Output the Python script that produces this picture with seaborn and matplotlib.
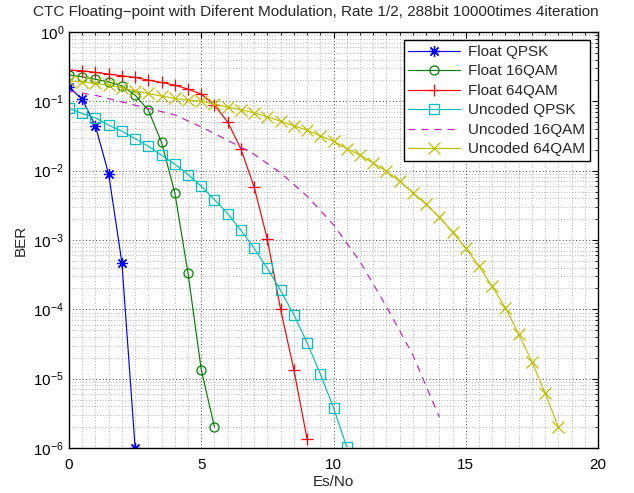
import numpy as np
import pandas as pd
import matplotlib
matplotlib.use("Agg")
import matplotlib.pyplot as plt
import seaborn as sns
from matplotlib.ticker import MultipleLocator, LogLocator, NullFormatter, FixedLocator

# values
x_fqpsk = [0, 0.5, 1, 1.5, 2, 2.5]
ber_fqpsk = [0.16, 0.107, 0.044, 0.0089, 4.7e-4, 1.0e-6]

x_f16 = [0, 0.5, 1, 1.5, 2, 2.5, 3, 3.5, 4, 4.5, 5, 5.5]
ber_f16 = [0.24, 0.226, 0.208, 0.19, 0.167, 0.123, 0.0746, 0.0255, 0.0048, 3.3e-4, 1.35e-5, 2.0e-6]

x_f64 = [0, 0.5, 1, 1.5, 2, 2.5, 3, 3.5, 4, 4.5, 5, 5.5, 6, 6.5, 7, 7.5, 8, 8.5, 9]
ber_f64 = [0.282, 0.276, 0.261, 0.247, 0.234, 0.221, 0.202, 0.187, 0.171, 0.15,
           0.127, 0.088, 0.0503, 0.0205, 0.0058, 1.02e-3, 1.0e-4, 1.35e-5, 1.35e-6]

x_uqpsk = [0, 0.5, 1, 1.5, 2, 2.5, 3, 3.5, 4, 4.5, 5, 5.5, 6, 6.5, 7, 7.5, 8, 8.5,
           9, 9.5, 10, 10.5]
ber_uqpsk = [0.0789, 0.0668, 0.0578, 0.0453, 0.0371, 0.029, 0.0225, 0.0167, 0.0124,
             0.00877, 0.00595, 0.00382, 0.0024, 0.00138, 7.6e-4, 3.9e-4, 1.87e-4,
             8.4e-5, 3.3e-5, 1.18e-5, 3.8e-6, 1.04e-6]

x_u16 = [0, 1, 2, 3, 4, 5, 6, 7, 8, 9, 10, 11, 12, 13, 14]
ber_u16 = [0.141, 0.122, 0.098, 0.079, 0.0638, 0.0427, 0.0275, 0.0172, 0.0093,
           0.0043, 0.00166, 4.9e-4, 1.1e-4, 2.2e-5, 2.8e-6]

x_u64 = [0, 0.5, 1, 1.5, 2, 2.5, 3, 3.5, 4, 4.5, 5, 5.5, 6, 6.5, 7, 7.5, 8, 8.5, 9,
         9.5, 10, 10.5, 11, 11.5, 12, 12.5, 13, 13.5, 14, 14.5, 15, 15.5, 16, 16.5,
         17, 17.5, 18, 18.5]
ber_u64 = [0.196, 0.191, 0.181, 0.171, 0.157, 0.14, 0.13, 0.119, 0.11, 0.104, 0.1007,
           0.091, 0.0825, 0.0755, 0.0683, 0.0597, 0.0518, 0.0443, 0.0384, 0.0318,
           0.0266, 0.0208, 0.0167, 0.0129, 0.0098, 0.00703, 0.00483, 0.0033, 0.00214,
           0.0013, 7.6e-4, 4.2e-4, 2.14e-4, 1.05e-4, 4.4e-5, 1.76e-5, 6.2e-6, 2.0e-6]

labels = ["Float QPSK", "Float 16QAM", "Float 64QAM",
          "Uncoded QPSK", "Uncoded 16QAM", "Uncoded 64QAM"]

sns.set_style("white")
plt.rcParams["font.family"] = ["Liberation Sans", "DejaVu Sans"]
plt.rcParams["mathtext.default"] = "regular"

fig = plt.figure(figsize=(6.34, 4.93), dpi=100)
ax = fig.add_axes([69 / 634, 1 - 448 / 493, 529 / 634, 416 / 493])

asterisk = (8, 2, 0)  # matlab style '*': spokes, not a filled star
series = [
    (x_fqpsk, ber_fqpsk, (0, 0, 1), asterisk, "-"),
    (x_f16, ber_f16, (0, 0.5, 0), "o", "-"),
    (x_f64, ber_f64, (1, 0, 0), "+", "-"),
    (x_uqpsk, ber_uqpsk, (0, 0.75, 0.75), "s", "-"),
    (x_u16, ber_u16, (0.78, 0.1, 0.78), None, "--"),
    (x_u64, ber_u64, (0.75, 0.75, 0), "x", "-"),
]

for (xs, ys, col, mk, ls), lab in zip(series, labels):
    df = pd.DataFrame({"EsNo": xs, "BER": ys})
    kw = dict(color=col, linewidth=0.85, label=lab, ax=ax)
    if mk is not None:
        kw.update(marker=mk, markersize=8 if mk in (asterisk, "+", "x") else 6.5,
                  markeredgecolor=col, markerfacecolor="none", markeredgewidth=0.9)
    if ls == "--":
        kw.update(dashes=(6, 5))
    sns.lineplot(data=df, x="EsNo", y="BER", **kw)

ax.set_yscale("log")
ax.set_xlim(0, 20)
ax.set_ylim(1e-6, 1)
ax.xaxis.set_major_locator(MultipleLocator(5))
ax.xaxis.set_minor_locator(MultipleLocator(0.5))
ax.yaxis.set_major_locator(FixedLocator([10.0 ** k for k in range(-6, 1)]))
ax.yaxis.set_minor_locator(LogLocator(base=10, subs=np.arange(2, 10), numticks=20))
ax.yaxis.set_minor_formatter(NullFormatter())

ax.grid(True, which="major", color="black", linestyle=(0, (1, 3)), linewidth=0.6)
ax.grid(True, which="minor", color="0.45", linestyle=(0, (1, 3)), linewidth=0.5)
ax.set_axisbelow(True)

ax.tick_params(which="both", direction="in", top=True, right=True, labelsize=11, colors="black")
ax.tick_params(which="major", length=4, width=0.8)
ax.tick_params(which="minor", length=2, width=0.6)
ax.tick_params(axis="x", which="major", pad=7)
for s in ax.spines.values():
    s.set_color("black")
    s.set_linewidth(1.0)

ax.set_xlabel("Es/No", fontsize=11, labelpad=2)
ax.set_ylabel("BER", fontsize=11, labelpad=4)
fig.text(316 / 634, 1 - 12 / 493,
         "CTC Floating\u2212point with Diferent Modulation, Rate 1/2, 288bit 10000times 4iteration",
         fontsize=11.0, ha="center", va="center")

leg = ax.legend(loc="upper right", fontsize=11, frameon=True, fancybox=False,
                edgecolor="black", framealpha=1, handlelength=3.4, handletextpad=0.5,
                labelspacing=0.36, borderaxespad=0.55, borderpad=0.3)
leg.get_frame().set_linewidth(1.0)

fig.savefig("out.png", dpi=100)
